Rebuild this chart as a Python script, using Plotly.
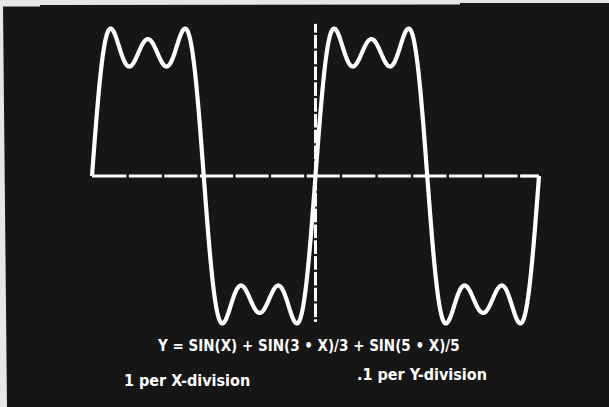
import numpy as np
import plotly.graph_objects as go

# Series definition: Y = SIN(X) + SIN(3*X)/3 + SIN(5*X)/5
harmonics = [1, 3, 5]
weights = [1.0, 1 / 3, 1 / 5]
x_start, x_end = 0.0, 4 * np.pi          # two full periods
n_samples = 1200

# Axis layout: x divisions of 1, y divisions of 0.1
x_divisions = list(range(0, 13))         # 0..12 (+ the end at 4*pi)
y_axis_extent = [-0.93, 0.97]
y_division = 0.1

equation = "Y = SIN(X) + SIN(3 \u2022 X)/3 + SIN(5 \u2022 X)/5"
x_note = "1 per X-division"
y_note = ".1 per Y-division"

BG = "#161616"
FG = "#ffffff"
W, H = 609, 407

xs = np.linspace(x_start, x_end, n_samples)
ys = sum(w * np.sin(h * xs) for h, w in zip(harmonics, weights))

# horizontal axis drawn as division segments with small breaks
gx, gy = [], []
edges = x_divisions + [x_end]
gap = 0.035
for a, b in zip(edges[:-1], edges[1:]):
    gx += [a + (gap if a > x_start else 0), b - (gap if b < x_end else 0), None]
    gy += [0, 0, None]

# vertical axis at X = 2*pi, broken every 0.1
vx, vy = [], []
y0, y1 = y_axis_extent
k = np.ceil(y0 / y_division)
marks = [y0] + [round(v * y_division, 2) for v in np.arange(k, np.floor(y1 / y_division) + 1)] + [y1]
for a, b in zip(marks[:-1], marks[1:]):
    if b - a < 0.02:
        continue
    vx += [2 * np.pi, 2 * np.pi, None]
    vy += [a + 0.007, b - 0.007, None]

fig = go.Figure()
fig.add_trace(go.Scatter(x=gx, y=gy, mode="lines", line=dict(color=FG, width=3.2),
                         hoverinfo="skip", showlegend=False))
fig.add_trace(go.Scatter(x=vx, y=vy, mode="lines", line=dict(color=FG, width=3),
                         hoverinfo="skip", showlegend=False))
fig.add_trace(go.Scatter(x=xs, y=ys, mode="lines", line=dict(color=FG, width=4.2, shape="spline"),
                         hoverinfo="skip", showlegend=False))

# pixel mapping: x=0 at 92 px, 4*pi at 539 px; y=0 at 176 px, 158 px per unit
px_per_x = (539 - 92) / (4 * np.pi)
px_per_y = 158.0
x_range = [-92 / px_per_x, (W - 92) / px_per_x]
y_range = [-(H - 176) / px_per_y, 176 / px_per_y]

def px(xp, yp):
    return xp / W, 1 - yp / H

# light frame edge along the top and left
frame_pts = [px(0, 0), px(609, 0), px(609, 3), px(460, 3), px(460, 4.5), px(40, 5),
             px(40, 6.5), px(3, 6.5), px(7, 407), px(0, 407)]
path = "M " + " L ".join(f"{a:.5f},{b:.5f}" for a, b in frame_pts) + " Z"

font = dict(family="DejaVu Sans Condensed, DejaVu Sans, sans-serif", color=FG, size=15)
note_font = dict(font, size=16)
fig.update_layout(
    width=W, height=H,
    margin=dict(l=0, r=0, t=0, b=0),
    paper_bgcolor=BG, plot_bgcolor=BG,
    xaxis=dict(range=x_range, visible=False, fixedrange=True),
    yaxis=dict(range=y_range, visible=False, fixedrange=True),
    shapes=[dict(type="path", path=path, xref="paper", yref="paper",
                 fillcolor="#e6e6e6", line=dict(width=0), layer="above")],
    annotations=[
        dict(text=f"<b>{equation}</b>", x=px(308, 0)[0], y=px(0, 346)[1], xref="paper", yref="paper",
             showarrow=False, xanchor="center", yanchor="middle", font=font),
        dict(text=f"<b>{x_note}</b>", x=px(122, 0)[0], y=px(0, 380)[1], xref="paper", yref="paper",
             showarrow=False, xanchor="left", yanchor="middle", font=note_font),
        dict(text=f"<b>{y_note}</b>", x=px(355, 0)[0], y=px(0, 374)[1], xref="paper", yref="paper",
             showarrow=False, xanchor="left", yanchor="middle", font=note_font),
    ],
)

fig.write_html("out.html")
